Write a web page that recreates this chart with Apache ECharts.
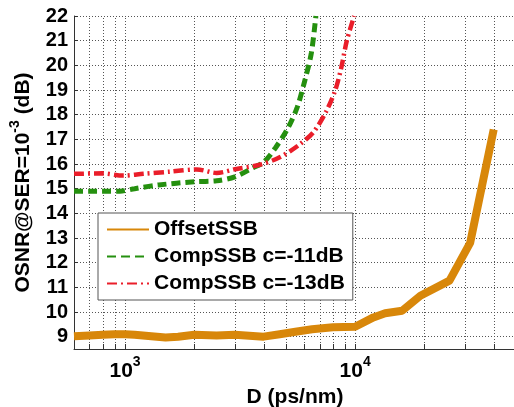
<!DOCTYPE html>
<html><head><meta charset="utf-8">
<script src="https://cdn.jsdelivr.net/npm/echarts/dist/echarts.min.js"></script>
<style>html,body{margin:0;padding:0;background:#fff;overflow:hidden}#c{width:514px;height:407px}</style>
</head><body><div id="c"></div>
<script>
// ---- data ----
const seriesNames = ['OffsetSSB', 'CompSSB c=-11dB', 'CompSSB c=-13dB'];
const offsetD    = [600, 700, 800, 900, 1000, 1100, 1300, 1500, 1700, 2000, 2500, 3000, 4000, 4700, 5500, 6500, 8000, 10000, 12000, 13500, 16000, 19200, 25700, 31600, 40000];
const offsetOSNR = [9.02, 9.05, 9.08, 9.1, 9.1, 9.08, 9.02, 8.97, 9.0, 9.08, 9.05, 9.08, 9.0, 9.1, 9.2, 9.3, 9.38, 9.4, 9.78, 9.95, 10.05, 10.66, 11.27, 12.8, 17.4];
const comp11D    = [600, 700, 800, 950, 1100, 1400, 2000, 2500, 3000, 3600, 4000, 4500, 5100, 5600, 6050, 6450, 6750];
const comp11OSNR = [14.9, 14.9, 14.9, 14.9, 15.0, 15.15, 15.28, 15.32, 15.48, 15.85, 16.07, 16.65, 17.45, 18.3, 19.4, 20.5, 22.0];
const comp13D    = [600, 800, 980, 1200, 1570, 2050, 2500, 3050, 3850, 4700, 5750, 6600, 7500, 8200, 8700, 9200, 9900];
const comp13OSNR = [15.6, 15.62, 15.53, 15.6, 15.69, 15.78, 15.64, 15.8, 15.97, 16.27, 16.8, 17.3, 18.15, 19.0, 19.9, 21.0, 22.0];
const xMin = 600, xMax = 50000;
const yMin = 8.5, yMax = 22;
const xGridValues = [700, 800, 900, 1000, 2000, 3000, 4000, 5000, 6000, 7000, 8000, 9000, 10000, 20000, 30000, 40000];

// ---- chart ----
const FONT = '"Liberation Sans", Arial, sans-serif';
const zip = (a, b) => a.map((v, i) => [v, b[i]]);
const chart = echarts.init(document.getElementById('c'), null, {renderer: 'canvas'});
const isPow10 = v => Math.abs(Math.log10(v) - Math.round(Math.log10(v))) < 1e-6;

chart.setOption({
  backgroundColor: '#fff',
  animation: false,
  grid: {left: 74, top: 16, bottom: 58, right: -2, containLabel: false, outerBoundsMode: 'none'},
  legend: {
    orient: 'vertical', left: 98, top: 213,
    data: seriesNames,
    backgroundColor: '#fff', borderColor: '#555', borderWidth: 1,
    padding: [6, 8, 6, 8], itemGap: 6, itemWidth: 42, itemHeight: 14,
    itemStyle: {opacity: 0},
    textStyle: {fontFamily: FONT, fontWeight: 'bold', fontSize: 21, color: '#000'}
  },
  xAxis: {
    type: 'log', logBase: 10, min: xMin, max: xMax,
    name: 'D (ps/nm)', nameLocation: 'middle', nameGap: 36,
    nameTextStyle: {fontFamily: FONT, fontWeight: 'bold', fontSize: 21, color: '#000'},
    axisLine: {show: true, onZero: false, lineStyle: {color: '#333', width: 1}},
    axisTick: {show: false},
    splitLine: {show: false},
    minorTick: {show: false}, minorSplitLine: {show: false},
    axisLabel: {
      margin: 6,
      formatter: v => isPow10(v) ? '{b|10}{s|' + Math.round(Math.log10(v)) + '}' : '',
      rich: {
        b: {fontFamily: FONT, fontWeight: 'bold', fontSize: 21, color: '#000', lineHeight: 32},
        s: {fontFamily: FONT, fontWeight: 'bold', fontSize: 14, color: '#000', verticalAlign: 'top', lineHeight: 14}
      }
    }
  },
  yAxis: {
    type: 'value', min: yMin, max: yMax, splitNumber: 14, minInterval: 1, maxInterval: 1,
    name: '{a|OSNR@SER=10}{s|-3}{a| (dB)}', nameLocation: 'middle', nameGap: 36, nameRotate: 90,
    nameTextStyle: {
      rich: {
        a: {fontFamily: FONT, fontWeight: 'bold', fontSize: 21, color: '#000', lineHeight: 30},
        s: {fontFamily: FONT, fontWeight: 'bold', fontSize: 14, color: '#000', verticalAlign: 'top', lineHeight: 14}
      }
    },
    axisLine: {show: true, lineStyle: {color: '#333', width: 1}},
    axisTick: {show: true, inside: true, length: 4, lineStyle: {color: '#333'}},
    splitLine: {show: true, lineStyle: {color: '#555', width: 1, type: [1, 2]}},
    axisLabel: {
      margin: 6, fontFamily: FONT, fontWeight: 'bold', fontSize: 20, color: '#000',
      formatter: v => Number.isInteger(v) ? String(v) : ''
    }
  },
  series: [
    {
      type: 'custom', name: 'grid', silent: true, z: 1, clip: false,
      data: xGridValues.map(v => [v, yMin]),
      encode: {x: 0, y: 1},
      renderItem: (params, api) => {
        const x = api.value(0);
        const b = api.coord([x, yMin]);
        const t = api.coord([x, yMax]);
        const px = Math.round(b[0]) + 0.5;
        return {type: 'group', children: [
          {type: 'line', shape: {x1: px, y1: b[1], x2: px, y2: t[1]}, style: {stroke: '#555', lineWidth: 1, lineDash: [1, 2]}},
          {type: 'line', shape: {x1: px, y1: b[1], x2: px, y2: b[1] - 5}, style: {stroke: '#333', lineWidth: 1}}
        ]};
      }
    },
    {
      name: seriesNames[0], type: 'line', data: zip(offsetD, offsetOSNR), symbol: 'none', z: 3,
      lineStyle: {color: '#D8870A', width: 8, join: 'round', cap: 'butt'}, itemStyle: {color: '#D8870A'}
    },
    {
      name: seriesNames[1], type: 'line', data: zip(comp11D, comp11OSNR), symbol: 'none', smooth: 0.3, z: 4,
      lineStyle: {color: '#25900F', width: 5, type: [9, 5]}, itemStyle: {color: '#25900F'}
    },
    {
      name: seriesNames[2], type: 'line', data: zip(comp13D, comp13OSNR), symbol: 'none', smooth: 0.3, z: 5,
      lineStyle: {color: '#EA1E2A', width: 4.5, type: [10, 4, 2, 4]}, itemStyle: {color: '#EA1E2A'}
    }
  ]
});
</script></body></html>
